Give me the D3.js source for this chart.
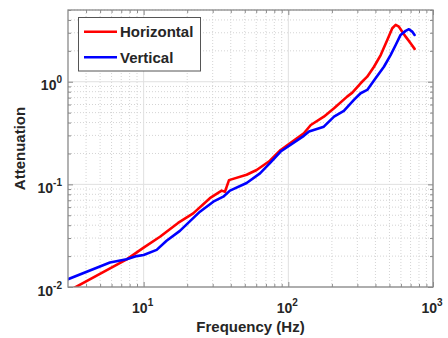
<!DOCTYPE html>
<html>
<head>
<meta charset="utf-8">
<script src="https://cdn.jsdelivr.net/npm/d3@7"></script>
<style>
  html, body { margin: 0; padding: 0; background: #fff; }
  svg { display: block; font-family: Arial, "Liberation Sans", sans-serif; }
</style>
</head>
<body>
<svg id="chart" width="448" height="338"></svg>
<script>
// ---- data ----
const horizFreq = [3.0, 7.63, 10.0, 12.97, 14.4, 17.3, 22.0, 28.7, 34.6, 36.5, 38.9, 51.5, 60.4, 74.6, 88.5, 128, 143, 176, 207, 255, 277, 316, 351, 391, 435, 483, 523, 552, 581, 647, 700, 746];
const horizAtt  = [0.0091, 0.0186, 0.0242, 0.0309, 0.0346, 0.0421, 0.0522, 0.0733, 0.0869, 0.0849, 0.110, 0.124, 0.138, 0.170, 0.216, 0.315, 0.379, 0.457, 0.552, 0.716, 0.783, 0.966, 1.12, 1.40, 1.82, 2.55, 3.32, 3.58, 3.44, 2.75, 2.37, 2.09];
const vertFreq  = [3.0, 5.85, 7.63, 8.95, 10.0, 12.3, 14.4, 17.8, 24.5, 30.3, 35.5, 39.5, 51.5, 63.7, 74.6, 88.5, 128, 139, 176, 207, 242, 284, 316, 351, 401, 458, 509, 552, 597, 647, 682, 718, 746];
const vertAtt   = [0.0119, 0.0173, 0.0186, 0.0200, 0.0205, 0.0230, 0.0282, 0.0352, 0.0542, 0.0678, 0.0759, 0.0869, 0.103, 0.128, 0.161, 0.209, 0.297, 0.327, 0.365, 0.457, 0.519, 0.665, 0.773, 0.832, 1.08, 1.40, 1.82, 2.28, 2.86, 3.13, 3.25, 3.08, 2.86];
const seriesNames = ["Horizontal", "Vertical"];
const seriesColors = ["#ff0000", "#0000ff"];
const xTickValues = [10, 100, 1000];
const xTickExps = ["1", "2", "3"];
const yTickValues = [0.01, 0.1, 1];
const yTickExps = ["-2", "-1", "0"];
const xLabel = "Frequency (Hz)";
const yLabel = "Attenuation";

// ---- layout ----
const L = 68, R = 433, T = 10, B = 287;
const svg = d3.select("#chart");
const x = d3.scaleLog().domain([3, 1000]).range([L, R]);
const y = d3.scaleLog().domain([0.01, 5]).range([B, T]);

const series = [
  { name: seriesNames[0], color: seriesColors[0], pts: horizFreq.map((f, i) => [f, horizAtt[i]]) },
  { name: seriesNames[1], color: seriesColors[1], pts: vertFreq.map((f, i) => [f, vertAtt[i]]) }
];

// grid
const gGrid = svg.append("g");
const xMinor = x.ticks().filter(v => !xTickValues.includes(v) && v > 3.0001);
const yMinor = y.ticks().filter(v => !yTickValues.some(t => Math.abs(t - v) / t < 1e-6));
gGrid.selectAll(".xm").data(xMinor).enter().append("line")
  .attr("x1", d => x(d)).attr("x2", d => x(d)).attr("y1", T).attr("y2", B)
  .attr("stroke", "#d4d4d4").attr("stroke-width", 1).attr("stroke-dasharray", "1,2");
gGrid.selectAll(".ym").data(yMinor).enter().append("line")
  .attr("y1", d => y(d)).attr("y2", d => y(d)).attr("x1", L).attr("x2", R)
  .attr("stroke", "#d4d4d4").attr("stroke-width", 1).attr("stroke-dasharray", "1,2");
gGrid.selectAll(".xM").data(xTickValues).enter().append("line")
  .attr("x1", d => x(d)).attr("x2", d => x(d)).attr("y1", T).attr("y2", B)
  .attr("stroke", "#e0e0e0").attr("stroke-width", 1);
gGrid.selectAll(".yM").data(yTickValues).enter().append("line")
  .attr("y1", d => y(d)).attr("y2", d => y(d)).attr("x1", L).attr("x2", R)
  .attr("stroke", "#e0e0e0").attr("stroke-width", 1);

// axes (ticks inside)
const axisColor = "#8a8a8a";
function styleAxis(g) {
  g.select(".domain").remove();
  g.selectAll("line").attr("stroke", axisColor);
  g.selectAll("text").remove();
}
svg.append("g").attr("transform", `translate(0,${B})`)
  .call(d3.axisBottom(x).tickValues(xTickValues).tickSizeInner(-5).tickSizeOuter(0)).call(styleAxis);
svg.append("g").attr("transform", `translate(0,${B})`)
  .call(d3.axisBottom(x).tickValues(xMinor).tickSizeInner(-3).tickSizeOuter(0).tickFormat("")).call(styleAxis);
svg.append("g").attr("transform", `translate(0,${T})`)
  .call(d3.axisTop(x).tickValues(xTickValues).tickSizeInner(-5).tickSizeOuter(0)).call(styleAxis);
svg.append("g").attr("transform", `translate(0,${T})`)
  .call(d3.axisTop(x).tickValues(xMinor).tickSizeInner(-3).tickSizeOuter(0).tickFormat("")).call(styleAxis);
svg.append("g").attr("transform", `translate(${L},0)`)
  .call(d3.axisLeft(y).tickValues(yTickValues).tickSizeInner(-5).tickSizeOuter(0)).call(styleAxis);
svg.append("g").attr("transform", `translate(${L},0)`)
  .call(d3.axisLeft(y).tickValues(yMinor).tickSizeInner(-3).tickSizeOuter(0).tickFormat("")).call(styleAxis);
svg.append("g").attr("transform", `translate(${R},0)`)
  .call(d3.axisRight(y).tickValues(yTickValues).tickSizeInner(-5).tickSizeOuter(0)).call(styleAxis);
svg.append("g").attr("transform", `translate(${R},0)`)
  .call(d3.axisRight(y).tickValues(yMinor).tickSizeInner(-3).tickSizeOuter(0).tickFormat("")).call(styleAxis);

// lines
svg.append("clipPath").attr("id", "clip").append("rect")
  .attr("x", L).attr("y", T).attr("width", R - L).attr("height", B - T);
const line = d3.line().x(d => x(d[0])).y(d => y(d[1]));
series.forEach(s => {
  svg.append("path").datum(s.pts).attr("d", line)
    .attr("clip-path", "url(#clip)")
    .attr("fill", "none").attr("stroke", s.color).attr("stroke-width", 2.6)
    .attr("stroke-linejoin", "round").attr("stroke-linecap", "round");
});

// box
svg.append("rect").attr("x", L).attr("y", T).attr("width", R - L).attr("height", B - T)
  .attr("fill", "none").attr("stroke", axisColor).attr("stroke-width", 1.3);

// tick labels
const txtColor = "#262626";
xTickValues.forEach((v, i) => {
  const t = svg.append("text").attr("x", x(v) - 1).attr("y", 313).attr("text-anchor", "middle")
    .attr("fill", txtColor).attr("font-size", 14).attr("font-weight", "bold");
  t.append("tspan").text("10");
  t.append("tspan").attr("dy", -7).attr("font-size", 10).text(xTickExps[i]);
});
yTickValues.forEach((v, i) => {
  const t = svg.append("text").attr("x", 62).attr("y", y(v) + 8.5).attr("text-anchor", "end")
    .attr("fill", txtColor).attr("font-size", 14).attr("font-weight", "bold");
  t.append("tspan").text("10");
  t.append("tspan").attr("dy", -7).attr("font-size", 10).text(yTickExps[i]);
});

// axis labels
svg.append("text").attr("x", (L + R) / 2).attr("y", 332).attr("text-anchor", "middle")
  .attr("fill", txtColor).attr("font-size", 15).attr("font-weight", "bold").text(xLabel);
svg.append("text").attr("transform", `translate(25,${(T + B) / 2}) rotate(-90)`).attr("text-anchor", "middle")
  .attr("fill", txtColor).attr("font-size", 15).attr("font-weight", "bold").text(yLabel);

// legend
const lg = svg.append("g");
lg.append("rect").attr("x", 78.5).attr("y", 17.5).attr("width", 122).attr("height", 53.5)
  .attr("fill", "#fff").attr("stroke", "#555").attr("stroke-width", 1);
series.forEach((s, i) => {
  const yy = 31.7 + i * 25.6;
  lg.append("line").attr("x1", 84).attr("x2", 117).attr("y1", yy).attr("y2", yy)
    .attr("stroke", s.color).attr("stroke-width", 2.6);
  lg.append("text").attr("x", 120).attr("y", yy + 5.5).attr("fill", txtColor)
    .attr("font-size", 15).attr("font-weight", "bold").text(s.name);
});
</script>
</body>
</html>
